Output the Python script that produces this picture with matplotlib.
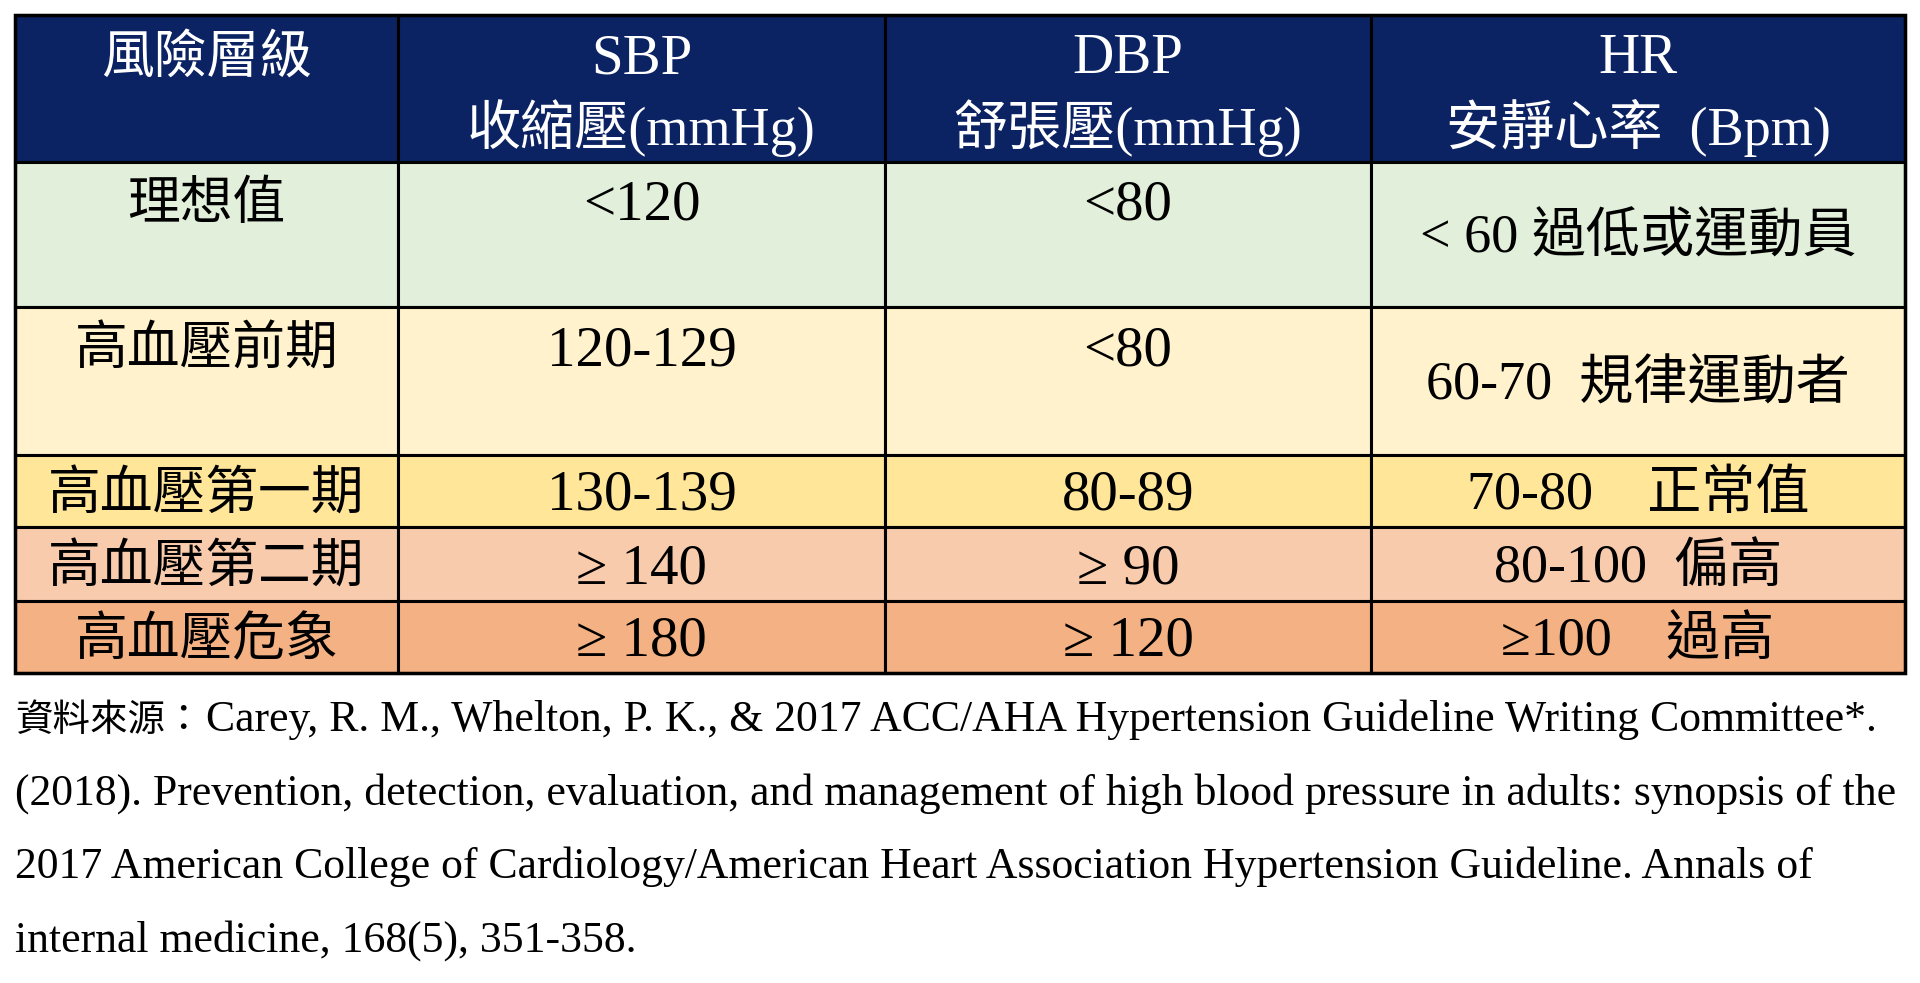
import matplotlib.pyplot as plt
from matplotlib.patches import Rectangle

FAM = ['Liberation Serif', 'Noto Sans CJK TC', 'DejaVu Sans']

# table content
headers = [["風險層級"], ["SBP", "收縮壓(mmHg)"], ["DBP", "舒張壓(mmHg)"], ["HR", "安靜心率  (Bpm)"]]
risk_levels = ["理想值", "高血壓前期", "高血壓第一期", "高血壓第二期", "高血壓危象"]
sbp = ["<120", "120-129", "130-139", "≥ 140", "≥ 180"]
dbp = ["<80", "<80", "80-89", "≥ 90", "≥ 120"]
hr = ["< 60 過低或運動員", "60-70  規律運動者", "70-80　正常值", "80-100  偏高", "≥100　過高"]
row_colors = ["#E2EFDA", "#FFF2CC", "#FFE699", "#F8CBAD", "#F4B183"]
header_color = "#0B2263"
source_prefix = "資料來源："
source_lines = [
    "Carey, R. M., Whelton, P. K., & 2017 ACC/AHA Hypertension Guideline Writing Committee*.",
    "(2018). Prevention, detection, evaluation, and management of high blood pressure in adults: synopsis of the",
    "2017 American College of Cardiology/American Heart Association Hypertension Guideline. Annals of",
    "internal medicine, 168(5), 351-358.",
]

# layout (pixels)
col_edges = [15, 398, 885, 1371, 1905]
row_edges = [15, 162, 307, 455, 527, 601, 673]
tall_rows = [0, 1]


def font_size(s):
    has_cjk = any(ord(ch) > 0x2E80 for ch in s)
    has_latin = any(ch.isascii() and ch.isalnum() for ch in s)
    if has_cjk and has_latin:
        return 39
    return 38 if has_cjk else 41


fig = plt.figure(figsize=(19.2, 9.83), dpi=100)
ax = fig.add_axes([0, 0, 1, 1])
ax.set_xlim(0, 1920)
ax.set_ylim(983, 0)
ax.axis('off')

columns = [risk_levels, sbp, dbp, hr]

# header
for c in range(4):
    x0, x1 = col_edges[c], col_edges[c + 1]
    y0, y1 = row_edges[0], row_edges[1]
    ax.add_patch(Rectangle((x0, y0), x1 - x0, y1 - y0, facecolor=header_color,
                           edgecolor='black', lw=2.2))
    for k, line in enumerate(headers[c]):
        ax.text((x0 + x1) / 2, y0 + 44 + k * 69, line, ha='center', va='center',
                color='white', fontsize=font_size(line), family=FAM)

# body
for r in range(len(risk_levels)):
    y0, y1 = row_edges[r + 1], row_edges[r + 2]
    for c in range(4):
        x0, x1 = col_edges[c], col_edges[c + 1]
        ax.add_patch(Rectangle((x0, y0), x1 - x0, y1 - y0, facecolor=row_colors[r],
                               edgecolor='black', lw=2.2))
        if r in tall_rows and c < 3:
            ty = y0 + 44
        else:
            ty = (y0 + y1) / 2 + 5
        txt = columns[c][r]
        ax.text((x0 + x1) / 2, ty, txt, ha='center', va='center',
                color='black', fontsize=font_size(txt), family=FAM)

# outer frame
ax.add_patch(Rectangle((col_edges[0], row_edges[0]), col_edges[-1] - col_edges[0],
                       row_edges[-1] - row_edges[0], fill=False, edgecolor='black', lw=2.5))

# source note
src_y = [731, 805, 878, 952]
pre = ax.text(15, src_y[0], source_prefix, ha='left', va='baseline', color='black',
              fontsize=27, family=FAM)
fig.canvas.draw()
pre_end = pre.get_window_extent().x1
for i, line in enumerate(source_lines):
    x = pre_end + 4 if i == 0 else 15
    ax.text(x, src_y[i], line, ha='left', va='baseline', color='black',
            fontsize=31.5, family=FAM)

fig.savefig('out.png', dpi=100, facecolor='white')
